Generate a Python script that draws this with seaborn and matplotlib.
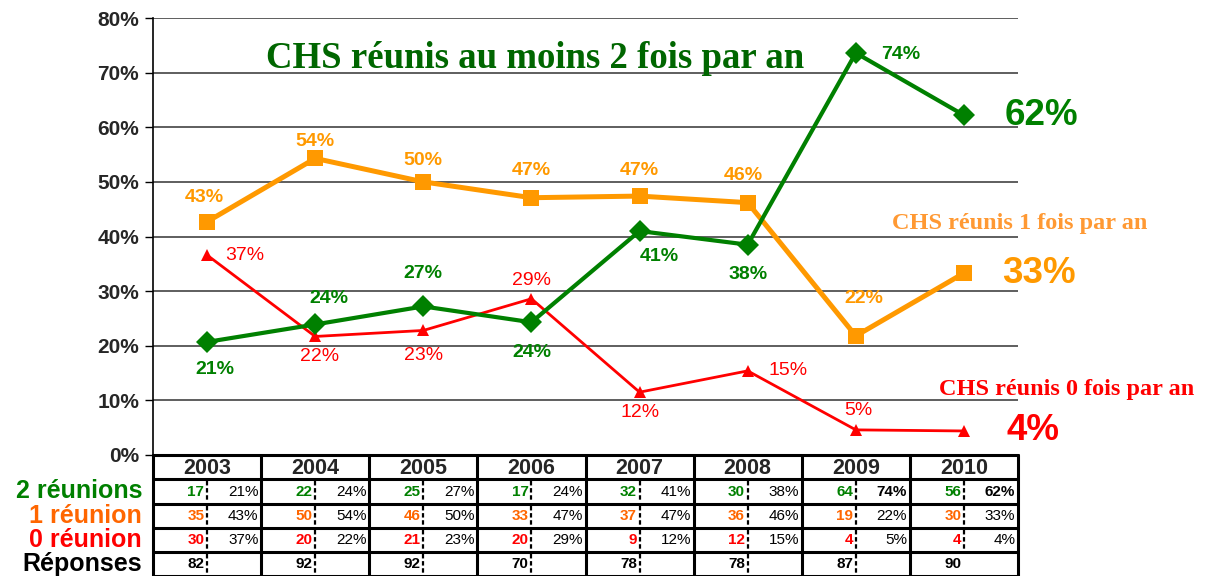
import matplotlib
matplotlib.use("Agg")
import matplotlib.pyplot as plt
import seaborn as sns
import pandas as pd

# Data
years = ["2003", "2004", "2005", "2006", "2007", "2008", "2009", "2010"]
pct_two = [20.7, 23.9, 27.2, 24.3, 41.0, 38.5, 73.6, 62.2]
pct_one = [42.7, 54.3, 50.0, 47.1, 47.4, 46.2, 21.8, 33.3]
pct_zero = [36.6, 21.7, 22.8, 28.6, 11.5, 15.4, 4.6, 4.4]
n_two = [17, 22, 25, 17, 32, 30, 64, 56]
n_one = [35, 50, 46, 33, 37, 36, 19, 30]
n_zero = [30, 20, 21, 20, 9, 12, 4, 4]
n_resp = [82, 92, 92, 70, 78, 78, 87, 90]

GREEN = "#008000"
ORANGE = "#FF9900"
ORANGE_TXT = "#FF6600"
RED = "#FF0000"
SANS = "Liberation Sans"
SERIF = "Liberation Serif"

sns.set_style("white")
plt.rcParams["font.family"] = [SANS, "DejaVu Sans"]

W, H = 1214, 576
fig = plt.figure(figsize=(W / 100, H / 100), dpi=100)
L, R = 153 / W, 1018 / W
ax = fig.add_axes([L, 121 / H, R - L, 437 / H])

df = pd.DataFrame({"pos": range(len(years)), "two": pct_two,
                   "one": pct_one, "zero": pct_zero})

sns.lineplot(data=df, x="pos", y="one", ax=ax, color=ORANGE, linewidth=3.6,
             marker="s", markersize=12, markeredgewidth=0, zorder=3)
sns.lineplot(data=df, x="pos", y="zero", ax=ax, color=RED, linewidth=2,
             marker="^", markersize=8, markeredgewidth=0, zorder=3)
sns.lineplot(data=df, x="pos", y="two", ax=ax, color=GREEN, linewidth=3,
             marker="D", markersize=11, markeredgewidth=0, zorder=4)

ax.set_xlim(-0.5, 7.5)
ax.set_ylim(0, 80)
ax.set_yticks(range(0, 81, 10))
ax.set_yticklabels([f"{v}%" for v in range(0, 81, 10)], fontsize=15,
                   fontweight="bold")
ax.set_xticks([])
ax.set_xlabel("")
ax.set_ylabel("")
ax.tick_params(axis="y", direction="out", length=6, width=1, pad=4,
               left=True, color="black")
for v in range(10, 81, 10):
    ax.axhline(v, color="#333333", lw=1.1, zorder=1)
for s in ["top", "right", "bottom"]:
    ax.spines[s].set_visible(False)
ax.spines["left"].set_color("black")
ax.spines["left"].set_linewidth(1.2)

# point labels: offsets in pixels
off_two = [(8, -28), (14, 26), (0, 33), (0, -30), (20, -25), (0, -30), (45, -2)]
off_one = [(-3, 24), (0, 17), (0, 21), (0, 27), (0, 26), (-4, 27), (8, 37)]
off_zero = [(38, 0), (4, -20), (0, -25), (0, 18), (0, -20), (40, 0), (3, 19)]

for i, (dx, dy) in enumerate(off_two):
    ax.annotate(f"{pct_two[i]:.0f}%", (i, pct_two[i]), xytext=(dx, dy),
                textcoords="offset pixels", ha="center", va="center",
                color=GREEN, fontsize=14, fontweight="bold")
for i, (dx, dy) in enumerate(off_one):
    ax.annotate(f"{pct_one[i]:.0f}%", (i, pct_one[i]), xytext=(dx, dy),
                textcoords="offset pixels", ha="center", va="center",
                color=ORANGE, fontsize=14, fontweight="bold")
for i, (dx, dy) in enumerate(off_zero):
    ax.annotate(f"{pct_zero[i]:.0f}%", (i, pct_zero[i]), xytext=(dx, dy),
                textcoords="offset pixels", ha="center", va="center",
                color=RED, fontsize=14)

# big labels for the last year
for vals, col, dx in [(pct_two, GREEN, 77), (pct_one, ORANGE, 75),
                      (pct_zero, RED, 69)]:
    ax.annotate(f"{vals[-1]:.0f}%", (7, vals[-1]), xytext=(dx, 0),
                textcoords="offset pixels", ha="center", va="center",
                color=col, fontsize=26.5, fontweight="bold",
                annotation_clip=False)

fig.text(535 / W, 1 - 58 / H, "CHS réunis au moins 2 fois par an",
         family=SERIF, fontsize=26.5, fontweight="bold", color="#006600",
         ha="center", va="center")
fig.text(1020 / W, 1 - 224 / H, "CHS réunis 1 fois par an",
         family=SERIF, fontsize=17.5, fontweight="bold", color="#FF9933",
         ha="center", va="center")
fig.text(1067 / W, 1 - 389 / H, "CHS réunis 0 fois par an",
         family=SERIF, fontsize=17.5, fontweight="bold", color=RED,
         ha="center", va="center")

# table below the chart
tab = fig.add_axes([L, 0, R - L, 121 / H])
tab.set_xlim(-0.5, 7.5)
tab.set_ylim(121, 0)
tab.axis("off")
edges = [0, 24, 49, 73, 97, 121]
for y in edges:
    tab.plot([-0.5, 7.5], [y, y], color="black", lw=2.2, clip_on=False)
for i in range(len(years) + 1):
    tab.plot([i - 0.5, i - 0.5], [0, 121], color="black", lw=2.2,
             clip_on=False)

rows = [(n_two, pct_two, GREEN), (n_one, pct_one, ORANGE_TXT),
        (n_zero, pct_zero, RED), (n_resp, None, "black")]
for i, yr in enumerate(years):
    tab.text(i, edges[0] + 13, yr, ha="center", va="center",
             fontsize=15.5, fontweight="bold")
    for r, (counts, pcts, col) in enumerate(rows):
        y0, y1 = edges[r + 1], edges[r + 2]
        yc = (y0 + y1) / 2 + 0.5
        xd = i
        if not (r == 3 and i == 7):
            tab.plot([xd, xd], [y0 + 2, y1 - 2], color="black", lw=1.6,
                     ls=(0, (2, 1.2)))
        tab.text(xd - 0.025, yc, str(counts[i]), ha="right", va="center",
                 fontsize=11, fontweight="bold", color=col)
        if pcts is not None:
            bold = r == 0 and i >= 6
            tab.text(i + 0.475, yc, f"{pcts[i]:.0f}%", ha="right",
                     va="center", fontsize=11,
                     fontweight="bold" if bold else "normal", color="black")

labels = ["2 réunions", "1 réunion", "0 réunion", "Réponses"]
lab_cols = [GREEN, ORANGE_TXT, RED, "black"]
for r, (txt, col) in enumerate(zip(labels, lab_cols)):
    yc = 455 + (edges[r + 1] + edges[r + 2]) / 2
    fig.text(142 / W, 1 - yc / H, txt, ha="right", va="center",
             fontsize=18, fontweight="bold", color=col)

fig.savefig("out.png", dpi=100)
